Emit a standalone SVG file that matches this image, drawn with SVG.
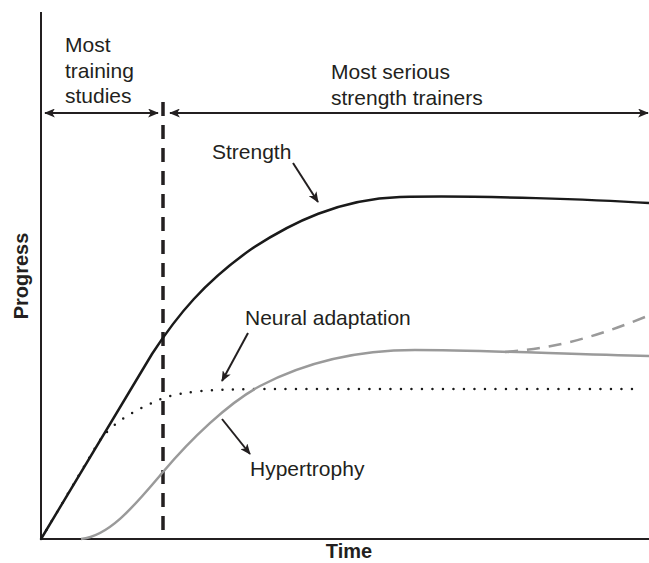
<svg xmlns="http://www.w3.org/2000/svg" width="649" height="563" viewBox="0 0 649 563">
<style>
text{font-family:"Liberation Sans",Arial,sans-serif;fill:#231f20}
.lbl{font-size:21px}
.ax{font-size:20px;font-weight:bold}
.axis{stroke:#231f20;stroke-width:2;fill:none}
.arr{stroke:#231f20;stroke-width:2;fill:none}
</style>
<defs>
<marker id="ah" viewBox="0 0 12 10" refX="11" refY="5" markerWidth="11" markerHeight="9" markerUnits="userSpaceOnUse" orient="auto-start-reverse">
<path d="M0,0 L12,5 L0,10 L3,5 z" fill="#231f20"/>
</marker>
</defs>
<g id="axes">
<line class="axis" x1="41" y1="12" x2="41" y2="540"/>
<line class="axis" x1="40" y1="539" x2="649" y2="539"/>
<text class="ax" transform="translate(28,276) rotate(-90)" text-anchor="middle">Progress</text>
<text class="ax" x="349" y="558" text-anchor="middle">Time</text>
</g>
<g id="divider">
<line x1="163" y1="102" x2="163" y2="539" stroke="#231f20" stroke-width="3.5" stroke-dasharray="14 9"/>
</g>
<g id="ranges">
<line class="arr" x1="45" y1="113" x2="158" y2="113" marker-start="url(#ah)" marker-end="url(#ah)"/>
<line class="arr" x1="170" y1="113" x2="648" y2="113" marker-start="url(#ah)" marker-end="url(#ah)"/>
<text class="lbl" x="65" y="52">Most</text>
<text class="lbl" x="65" y="78">training</text>
<text class="lbl" x="65" y="103">studies</text>
<text class="lbl" x="331" y="79">Most serious</text>
<text class="lbl" x="331" y="105">strength trainers</text>
</g>
<g id="strength">
<path d="M41,539 L152,354 C178,314 205,282 250,250 C292,222 340,199 400,197 C480,195 600,200 649,203" stroke="#1a1a1a" stroke-width="2.5" fill="none"/>
<text class="lbl" x="212" y="159">Strength</text>
</g>
<g id="neural">
<path d="M41,539 L98,443 C110,425 130,412 163,398 C185,391 210,390 250,389 L640,389" stroke="#1a1a1a" stroke-width="2.5" fill="none" stroke-dasharray="0 10.5" stroke-linecap="round"/>
<text class="lbl" x="245" y="325">Neural adaptation</text>
</g>
<g id="hypertrophy">
<path d="M81,539 C110,536 135,505 163,472 C190,440 228,403 260,386 C300,365 350,350 415,350 C480,350 560,354 649,356" stroke="#9a9a9a" stroke-width="2.5" fill="none"/>
<path d="M505,352 C560,348 600,335 645,317" stroke="#9a9a9a" stroke-width="2.5" fill="none" stroke-dasharray="13 9"/>
<text class="lbl" x="250" y="476">Hypertrophy</text>
</g>
<g id="connectors">
<line class="arr" x1="293" y1="163" x2="318" y2="202" marker-end="url(#ah)"/>
<line class="arr" x1="248" y1="333" x2="222" y2="381" marker-end="url(#ah)"/>
<line class="arr" x1="222" y1="419" x2="250" y2="454" marker-end="url(#ah)"/>
</g>
</svg>
